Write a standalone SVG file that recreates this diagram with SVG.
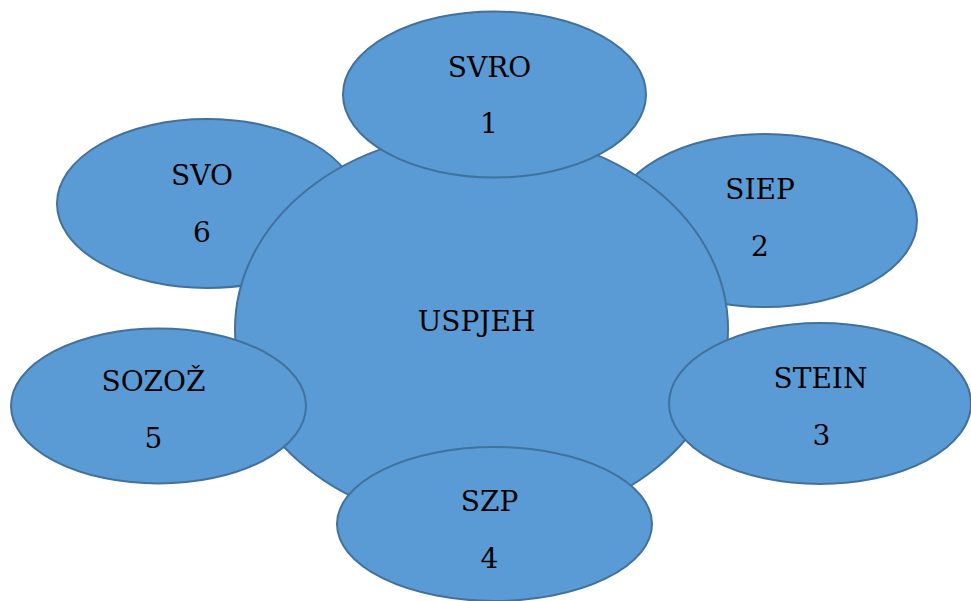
<svg xmlns="http://www.w3.org/2000/svg" width="971" height="601" viewBox="0 0 971 601">
<style>
.n{fill:#5B9BD5;stroke:#41719C;stroke-width:2}
.t{font-family:'DejaVu Serif',serif;font-size:28px;fill:#000;text-anchor:middle}
</style>
<rect width="971" height="601" fill="#fff"/>
<g id="connectors"/>
<g id="n6"><ellipse class="n" cx="207" cy="203.5" rx="150" ry="84.5"/><text class="t" x="202" y="185">SVO</text><text class="t" x="202" y="242">6</text></g>
<g id="n2"><ellipse class="n" cx="765" cy="220.5" rx="152" ry="86.5"/><text class="t" x="760" y="199">SIEP</text><text class="t" x="760" y="256">2</text></g>
<g id="center"><ellipse class="n" cx="481.5" cy="329" rx="246.5" ry="197"/><text class="t" x="476.5" y="331">USPJEH</text></g>
<g id="n1"><ellipse class="n" cx="494.5" cy="94.5" rx="151.5" ry="83"/><text class="t" x="489.5" y="77">SVRO</text><text class="t" x="489" y="133">1</text></g>
<g id="n3"><ellipse class="n" cx="820" cy="403.5" rx="151" ry="80.5"/><text class="t" x="820.5" y="388">STEIN</text><text class="t" x="821.5" y="445">3</text></g>
<g id="n5"><ellipse class="n" cx="158.5" cy="406" rx="147.5" ry="77.5"/><text class="t" x="153.5" y="391">SOZOŽ</text><text class="t" x="153.5" y="448">5</text></g>
<g id="n4"><ellipse class="n" cx="494.5" cy="524" rx="157.5" ry="77"/><text class="t" x="489.5" y="511">SZP</text><text class="t" x="489.5" y="568">4</text></g>
</svg>
